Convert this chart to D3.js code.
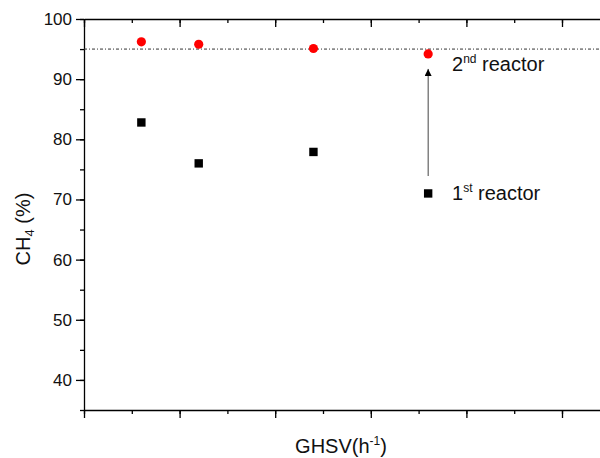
<!DOCTYPE html>
<html>
<head>
<meta charset="utf-8">
<script src="https://cdn.jsdelivr.net/npm/d3@7"></script>
<style>
  body { margin: 0; background: #fff; }
  text { font-family: Arial, "Liberation Sans", sans-serif; fill: #111; }
</style>
</head>
<body>
<svg id="chart" width="600" height="458"></svg>
<script>
// Data
const ghsv        = [600, 1200, 2400, 3600];
const firstReact  = [82.8, 76.0, 77.9, 71.0];
const secondReact = [96.2, 95.8, 95.1, 94.2];
const targetLine  = 95;
const arrowFrom   = 73.9;
const arrowTo     = 91.7;
const yMajorTicks = [40, 50, 60, 70, 80, 90, 100];

const W = 600, H = 458;
const M = { left: 84, top: 19, bottom: 410 };
const svg = d3.select('#chart');

const x = d3.scaleLinear().domain([0, 5500]).range([M.left, M.left + 5.5 * 95.6]);
const y = d3.scaleLinear().domain([35, 100]).range([M.bottom, M.top]);

const xMinor = d3.range(0, 5501, 500);
const xMajor = d3.range(0, 5501, 1000);
const yMinor = d3.range(35, 101, 5);

// Axes — minor ticks first, then major
function styleAxis(g) {
  g.selectAll('path').attr('stroke', '#000').attr('stroke-width', 1.3);
  g.selectAll('line').attr('stroke', '#000').attr('stroke-width', 1.3);
}

// bottom
svg.append('g').attr('transform', `translate(0,${M.bottom})`)
  .call(d3.axisBottom(x).tickValues(xMinor).tickSize(4).tickFormat('').tickSizeOuter(0))
  .call(styleAxis);
svg.append('g').attr('transform', `translate(0,${M.bottom})`)
  .call(d3.axisBottom(x).tickValues(xMajor).tickSize(8).tickFormat('').tickSizeOuter(0))
  .call(g => g.select('.domain').remove()).call(styleAxis);

// top (ticks inward)
svg.append('g').attr('transform', `translate(0,${M.top})`)
  .call(d3.axisBottom(x).tickValues(xMinor).tickSize(4).tickFormat('').tickSizeOuter(0))
  .call(styleAxis);
svg.append('g').attr('transform', `translate(0,${M.top})`)
  .call(d3.axisBottom(x).tickValues(xMajor).tickSize(8).tickFormat('').tickSizeOuter(0))
  .call(g => g.select('.domain').remove()).call(styleAxis);

// left
svg.append('g').attr('transform', `translate(${M.left},0)`)
  .call(d3.axisLeft(y).tickValues(yMinor).tickSize(4).tickFormat('').tickSizeOuter(0))
  .call(styleAxis);
const yAx = svg.append('g').attr('transform', `translate(${M.left},0)`)
  .call(d3.axisLeft(y).tickValues(yMajorTicks).tickSize(8).tickPadding(4).tickSizeOuter(0))
  .call(g => g.select('.domain').remove()).call(styleAxis);
yAx.selectAll('text').attr('font-size', '17px').attr('fill', '#111')
  .style('font-family', 'Arial, "Liberation Sans", sans-serif');

// 95% reference line
svg.append('line')
  .attr('x1', M.left).attr('x2', W)
  .attr('y1', y(targetLine)).attr('y2', y(targetLine))
  .attr('stroke', '#333').attr('stroke-width', 1)
  .attr('stroke-dasharray', '3,2,1,2');

// 1st reactor: black squares
svg.selectAll('.sq').data(ghsv).join('rect').attr('class', 'sq')
  .attr('x', d => x(d) - 4.2).attr('y', (d, i) => y(firstReact[i]) - 4.2)
  .attr('width', 8.4).attr('height', 8.4).attr('fill', '#000');

// 2nd reactor: red circles
svg.selectAll('.ci').data(ghsv).join('circle').attr('class', 'ci')
  .attr('cx', d => x(d)).attr('cy', (d, i) => y(secondReact[i]))
  .attr('r', 4.6).attr('fill', '#ff0000');

// Arrow
svg.append('defs').append('marker')
  .attr('id', 'ah').attr('viewBox', '0 0 10 10').attr('refX', 10).attr('refY', 5)
  .attr('markerWidth', 9).attr('markerHeight', 7).attr('markerUnits', 'userSpaceOnUse')
  .attr('orient', 'auto')
  .append('path').attr('d', 'M0,0L10,5L0,10Z').attr('fill', '#000');
const ax = x(ghsv[3]);
svg.append('line')
  .attr('x1', ax).attr('x2', ax)
  .attr('y1', y(arrowFrom)).attr('y2', y(arrowTo))
  .attr('stroke', '#444').attr('stroke-width', 1)
  .attr('marker-end', 'url(#ah)');

// Labels with superscripts
function supLabel(xp, yp, base, sup, rest, size) {
  const t = svg.append('text').attr('x', xp).attr('y', yp).attr('font-size', size + 'px');
  t.append('tspan').text(base);
  t.append('tspan').attr('font-size', Math.round(size * 0.62) + 'px').attr('dy', -size * 0.42).text(sup);
  t.append('tspan').attr('dy', size * 0.42).text(rest);
  return t;
}
supLabel(452, 71, '2', 'nd', ' reactor', 20);
supLabel(452, 200, '1', 'st', ' reactor', 20);

// x title
supLabel(341, 453, 'GHSV(h', '-1', ')', 20).attr('text-anchor', 'middle');

// y title
const yt = svg.append('text').attr('transform', 'translate(30,229) rotate(-90)')
  .attr('text-anchor', 'middle').attr('font-size', '20px');
yt.append('tspan').text('CH');
yt.append('tspan').attr('font-size', '13px').attr('dy', 4).text('4');
yt.append('tspan').attr('dy', -4).text(' (%)');
</script>
</body>
</html>
